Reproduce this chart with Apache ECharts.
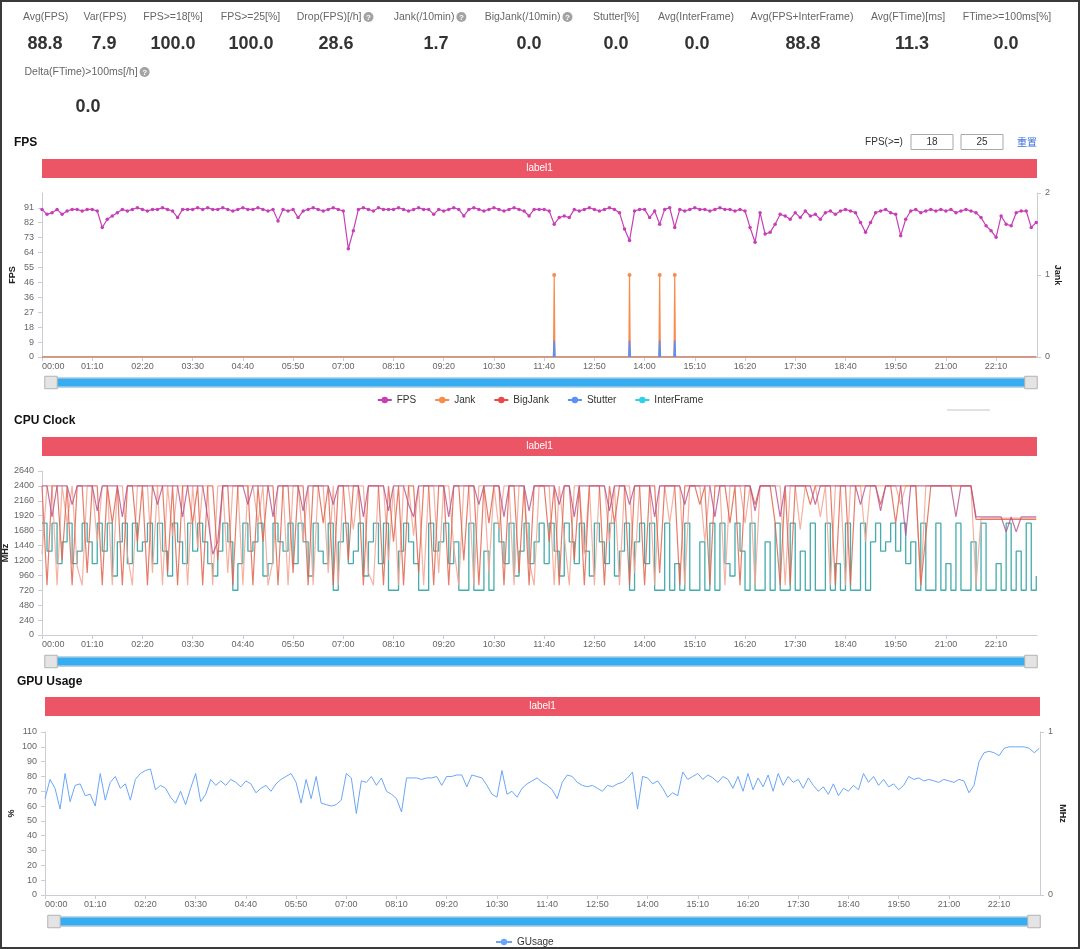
<!DOCTYPE html>
<html><head><meta charset="utf-8">
<script src="https://cdn.jsdelivr.net/npm/echarts@6/dist/echarts.min.js"></script>
<style>
html,body{margin:0;padding:0;background:#fff;}
#c{position:absolute;left:0;top:0;width:1080px;height:949px;}
#frame{position:absolute;left:0;top:0;width:1080px;height:949px;box-sizing:border-box;border:2px solid #3a3a3a;pointer-events:none;}
</style>
</head><body><div id="c"></div><div id="frame"></div>
<script>
// ---------------- data ----------------
const STEP = 7; // seconds between samples
const XMAX = 1387;
const fps = [
90,87,88,90,87,89,90,90,89,90,
90,89,79,84,86,88,90,89,90,91,
90,89,90,90,91,90,89,85,90,90,
90,91,90,91,90,90,91,90,89,90,
91,90,90,91,90,89,90,83,90,89,
90,85,89,90,91,90,89,90,91,90,
89,66,77,90,91,90,89,91,90,90,
90,91,90,89,90,91,90,90,87,90,
89,90,91,90,86,90,91,90,89,90,
91,90,89,90,91,90,89,86,90,90,
90,89,81,85,86,85,90,89,90,91,
90,89,90,91,90,88,78,71,89,90,
90,85,89,81,90,91,79,90,89,90,
91,90,90,89,90,91,90,90,89,90,
89,79,70,88,75,76,81,87,86,84,
88,85,89,86,87,84,88,89,87,89,
90,89,88,82,76,82,88,89,90,88,
87,74,84,89,90,88,89,90,89,90,
89,90,88,89,90,89,88,85,80,77,
73,86,81,80,88,89,89,79,82];
const times = fps.map((_, i) => i * STEP);
const jankEvents = [714, 819, 861, 882];
const jankValues = [1, 1, 1, 1];
const stutterValues = [0.2, 0.2, 0.2, 0.2];
const bigJankEvents = [];
const bigJankValues = [];
const interFrameEvents = [];
const interFrameValues = [];

const cpuP = [
2400,2400,1900,2400,2400,2400,2100,2400,2400,2400,
2400,2000,2400,2400,2400,2400,1900,2400,2400,2400,
2400,2400,2400,2100,2400,2400,2400,2400,1900,2400,
2400,2400,2400,1900,1300,1500,2400,2400,2400,2400,
2400,2100,2400,2400,2400,2400,1900,2400,2400,2400,
2400,2400,2000,2400,2400,2400,2400,2400,2100,2400,
2400,2400,2400,2400,1900,2400,2400,2400,2400,2000,
2400,2400,2400,2100,1900,2400,2400,2400,2400,2400,
2400,1900,2400,2400,2400,2400,2400,2100,2400,2400,
2400,2400,1900,2400,2400,2400,2400,2000,2400,2400,
2400,2400,2400,2100,2400,2400,1900,2400,2400,2400,
2400,2400,2400,2000,2400,2400,2400,2100,2400,2400,
2400,2400,1900,2400,2400,2400,2400,2400,2100,2400,
2400,2400,2400,2400,1900,2400,2400,2400,2400,2400,
2400,2400,2000,2400,2400,2400,2400,1900,2400,2400,
2400,2400,2400,2400,2100,2400,2400,2400,2400,2400,
2400,2400,2400,2100,2400,2400,2400,2000,2400,2400,
2400,2400,1600,2400,2400,2400,2400,2400,2400,2400,
2400,2400,1900,2400,2400,2400,1900,1900,1900,1900,
1900,1900,1660,1900,1660,1900,1900,1900,1900];
const cpuO1 = [
2400,800,2400,2400,1200,2400,800,2400,2400,1000,
2400,2400,800,2400,1800,2400,800,2400,2400,1500,
2400,800,2400,2400,2400,1000,2400,800,2400,2400,
1800,2400,800,2400,2400,1200,2400,2400,800,2400,
2400,2400,800,2400,1500,2400,2400,800,2400,2400,
1000,2400,2400,800,2400,2400,1800,2400,800,2400,
2400,1200,2400,2400,800,2400,2400,2400,800,2400,
1500,2400,800,2400,2400,1000,2400,2400,800,2400,
2400,800,2400,2400,1200,2400,2400,800,2400,1800,
2400,2400,800,2400,2400,1000,2400,800,2400,2400,
2400,1500,2400,800,2400,2400,1200,2400,800,2400,
2400,2400,800,2400,1800,2400,2400,800,2400,2400,
800,2400,2400,1000,2400,2400,2400,800,2400,2400,
2400,2100,2400,800,2400,2400,2400,1800,2400,800,
2400,2400,2100,2400,2400,2400,1800,800,2400,800,
2400,2400,2400,2100,2400,2400,2400,2400,800,2400,
2400,800,2400,2400,2400,2400,2400,2100,2400,2400,
1800,2400,2400,2400,2400,800,1600,2400,2400,2400,
2400,2400,2400,2400,2400,2400,1860,1860,1860,1860,
1860,1860,1860,1860,1860,1860,1860,1860,1860];
const cpuO2 = [
1300,2400,2400,800,2400,1800,2400,1100,800,2400,
2400,1500,2400,2400,800,2400,2400,1300,800,2400,
2400,2400,1000,2400,800,2400,1600,2400,2400,800,
2400,1400,2400,2400,800,2400,2400,1000,2400,2400,
800,2400,2400,1800,2400,800,1200,2400,2400,800,
2400,2400,1500,2400,800,2400,2400,1000,2400,800,
2400,2400,1700,2400,2400,1000,800,2400,2400,1200,
2400,800,2400,2400,1600,2400,800,2400,2400,1000,
2400,2400,1400,800,2400,2400,800,2400,2400,1000,
2400,1700,2400,2400,800,2400,2400,1200,800,2400,
2400,2400,800,2400,1600,800,2400,2400,1300,2400,
800,2400,2400,1500,2400,800,2400,2400,1000,2400,
2400,2400,800,2400,2400,1800,2400,2400,800,2400,
2400,2400,1500,2400,2400,2400,800,2400,2400,2400,
1800,2400,800,2400,2400,2400,2400,2400,800,2400,
2400,1700,2400,2400,2400,1900,2400,800,2400,2400,
800,2400,2400,2400,1500,2400,2400,2400,2400,2400,
2400,2100,2400,2400,2400,800,2400,2400,2400,2400,
2400,2400,2400,2400,2400,2400,800,1880,1880,1880,
1880,1880,1880,1880,1880,1880,1880,1880,1880];
const cpuT = [
1800,1350,1800,1150,1500,1800,1150,1350,1800,1500,
1150,1800,1350,1800,950,1500,1800,1150,1800,1350,
1500,1800,1150,1800,1350,950,1800,1500,1150,1800,
1350,1800,1500,1150,950,1350,1800,1500,720,1150,
1800,1350,1500,1800,950,1150,1800,1500,1350,1800,
1150,1800,1500,950,1800,1350,1150,1800,720,1500,
1800,1150,1350,1800,950,1500,1800,1150,1800,720,
720,1350,1800,1500,1150,720,720,1800,1350,1500,
1800,1150,1500,720,720,1800,720,720,1350,720,
1800,1500,1150,1800,950,1350,1800,1150,1500,1800,
1150,1800,1350,950,1800,1500,1150,1800,1350,950,
1800,1500,1150,1800,950,1350,1800,720,1500,1800,
1150,1800,720,720,1800,720,1150,720,1800,720,
720,1500,720,1800,720,1800,1150,950,1800,1350,
720,1800,720,720,1500,720,1800,720,720,1800,
720,1350,720,1800,720,720,1800,720,1150,720,
1800,720,720,1800,720,1500,1800,1350,1500,1800,
1350,1800,1150,1500,720,1800,720,720,1800,720,
1150,720,1800,720,720,1500,720,1800,720,720,
1150,720,1800,720,1350,720,1800,720,950];
const gpu = [
65,78,72,58,82,63,74,75,67,68,
60,82,64,76,80,72,75,64,78,82,
84,85,71,74,72,66,62,70,61,72,
82,63,68,78,74,77,74,78,76,73,
77,75,69,72,74,70,75,78,80,82,
76,62,78,65,80,62,61,60,61,64,
82,79,55,77,76,80,74,79,70,68,
65,56,79,79,79,78,79,79,80,74,
80,80,81,81,73,81,80,79,74,68,
66,84,68,70,66,72,75,77,79,76,
74,71,65,76,81,80,76,74,73,74,
72,70,74,73,75,76,79,83,58,80,
79,75,77,72,66,69,67,83,78,80,
82,78,81,79,76,80,78,72,80,70,
82,71,79,73,81,70,82,74,80,76,
78,72,79,74,70,73,68,75,67,72,
70,74,71,82,76,80,74,78,73,75,
71,74,80,78,79,77,78,77,76,78,
77,76,78,77,69,74,90,96,97,96,
94,99,100,100,100,100,99,96,99];

const statLabels = ['Avg(FPS)','Var(FPS)','FPS>=18[%]','FPS>=25[%]','Drop(FPS)[/h]','Jank(/10min)','BigJank(/10min)','Stutter[%]','Avg(InterFrame)','Avg(FPS+InterFrame)','Avg(FTime)[ms]','FTime>=100ms[%]','Delta(FTime)>100ms[/h]'];
const statValues = ['88.8','7.9','100.0','100.0','28.6','1.7','0.0','0.0','0.0','88.8','11.3','0.0','0.0'];
const chartTitles = ['FPS','CPU Clock','GPU Usage'];
const bandLabel = 'label1';
const fpsThresholds = ['18','25'];

// ---------------- layout ----------------
const FONT = "'Liberation Sans', Arial, sans-serif";
const statLabelCX = [45.6,105,173,250.5,null,null,null,616,696,802,908,1007,null];
const statHelpX   = [null,null,null,null,368.5,461.4,567.5,null,null,null,null,null,144.6];
const statValueCX = [45,104,173,251,336,436,529,616,697,803,912,1006,88];

const g = [];
statLabels.forEach((s, k) => {
  const row2 = k === 12;
  const ly = row2 ? 72 : 17, vy = row2 ? 107 : 44;
  if (statHelpX[k]) {
    g.push({type:'text', x: statHelpX[k] - 7, y: ly, style:{text:s, align:'right', verticalAlign:'middle', fill:'#666', font:'10.5px ' + FONT}});
    g.push({type:'circle', shape:{cx: statHelpX[k], cy: ly, r: 5}, style:{fill:'#a3a3a3'}});
    g.push({type:'text', x: statHelpX[k], y: ly + 0.5, style:{text:'?', align:'center', verticalAlign:'middle', fill:'#fff', font:'bold 8px ' + FONT}});
  } else {
    g.push({type:'text', x: statLabelCX[k], y: ly, style:{text:s, align:'center', verticalAlign:'middle', fill:'#666', font:'10.5px ' + FONT}});
  }
  g.push({type:'text', x: statValueCX[k], y: vy, style:{text: statValues[k], align:'center', verticalAlign:'middle', fill:'#333', font:'bold 18px ' + FONT}});
});
const titleXY = [[14,143],[14,421],[17,682]];
chartTitles.forEach((t, k) => {
  g.push({type:'text', x: titleXY[k][0], y: titleXY[k][1], style:{text:t, align:'left', verticalAlign:'middle', fill:'#111', font:'bold 12px ' + FONT}});
});
const bands = [[42,159,995],[42,437,995],[45,697,995]];
bands.forEach(b => {
  g.push({type:'rect', shape:{x:b[0], y:b[1], width:b[2], height:19}, style:{fill:'#ec5565'}});
  g.push({type:'text', x: b[0] + b[2]/2, y: b[1] + 9.5, style:{text: bandLabel, align:'center', verticalAlign:'middle', fill:'#fff', font:'10px ' + FONT}});
});
g.push({type:'text', x: 884, y: 142, style:{text:'FPS(>=)', align:'center', verticalAlign:'middle', fill:'#333', font:'10px ' + FONT}});
[[911,932],[961,982]].forEach((b, k) => {
  g.push({type:'rect', shape:{x:b[0], y:134.5, width:42, height:15}, style:{fill:'#fff', stroke:'#a9a9a9', lineWidth:1}});
  g.push({type:'text', x: b[1], y: 142, style:{text: fpsThresholds[k], align:'center', verticalAlign:'middle', fill:'#333', font:'10px ' + FONT}});
});
g.push({type:'text', x: 1027, y: 142, style:{text:'重置', align:'center', verticalAlign:'middle', fill:'#3d6fe0', font:"10px 'Noto Sans CJK SC', sans-serif"}});
g.push({type:'line', shape:{x1:947, y1:410, x2:990, y2:410}, style:{stroke:'#c4c4c4', lineWidth:1}});

// ---------------- helpers ----------------
function fmt(v) {
  v = Math.round(v);
  const m = Math.floor(v / 60), s = v % 60;
  return String(m).padStart(2,'0') + ':' + String(s).padStart(2,'0');
}
function pairs(arr) { return arr.map((v, i) => [times[i], v]); }
function spikes(events, values, withBase) {
  const d = [];
  if (withBase) d.push({value:[times[0], 0], symbol:'none'});
  events.forEach((t, k) => {
    if (!withBase && k > 0) d.push({value:[t - 2, '-']});
    d.push({value:[t - 1, 0], symbol:'none'});
    d.push({value:[t, values[k]], symbol: withBase ? 'circle' : 'none'});
    d.push({value:[t + 1, 0], symbol:'none'});
  });
  if (withBase) d.push({value:[times[times.length - 1], 0], symbol:'none'});
  return d;
}
const axisColor = '#c9cdd6';
function xAx(gi) {
  return {type:'value', gridIndex: gi, min: 0, max: XMAX, interval: 70,
    axisLine:{show:true, lineStyle:{color: axisColor}},
    axisTick:{show:true, length:4, lineStyle:{color: axisColor}},
    axisLabel:{fontSize:9, color:'#666', margin:5, formatter: fmt, showMaxLabel:false, alignMinLabel:'left', fontFamily: FONT},
    splitLine:{show:false}};
}
function yAx(gi, o) {
  return Object.assign({type:'value', gridIndex: gi,
    axisLine:{show:true, lineStyle:{color: axisColor}},
    axisTick:{show:true, length:4, lineStyle:{color: axisColor}},
    axisLabel:{fontSize:9, color:'#666', fontFamily: FONT, formatter: v => String(Math.round(v))},
    splitLine:{show:false}, nameLocation:'middle', nameMoveOverlap:false,
    nameTextStyle:{fontSize:9, fontWeight:'bold', color:'#222', fontFamily: FONT}}, o);
}
function slider(idx, top, left, right) {
  return {type:'slider', xAxisIndex: idx, top, height: 10, left, right, start:0, end:100,
    showDetail:false, showDataShadow:false, brushSelect:false, moveHandleSize:0, filterMode:'none',
    backgroundColor:'#fff', borderColor:'#d6d6d6', fillerColor:'#36adf0',
    handleIcon:'path://M0,0h11v11h-11z', handleSize:'125%',
    handleStyle:{color:'#e4e4e4', borderColor:'#b3b3b3', borderWidth:1}};
}

const option = {
  animation: false,
  textStyle:{fontFamily: FONT},
  graphic: g,
  grid: [
    {left:42, right:43, top:193, height:164, containLabel:false, outerBoundsMode:'none'},
    {left:42, right:43, top:471, height:164, containLabel:false, outerBoundsMode:'none'},
    {left:45, right:40, top:732, height:163, containLabel:false, outerBoundsMode:'none'}
  ],
  xAxis: [xAx(0), xAx(1), xAx(2)],
  yAxis: [
    yAx(0, {min:0, max:100, interval:9.1, name:'FPS', nameGap:25, nameRotate:90,
      axisLabel:{fontSize:9, color:'#666', fontFamily: FONT, showMaxLabel:false, formatter: v => String(Math.round(v))}}),
    yAx(0, {position:'right', min:0, max:2, interval:1, name:'Jank', nameGap:16, nameRotate:-90}),
    yAx(1, {min:0, max:2640, interval:240, name:'MHz', nameGap:32, nameRotate:90}),
    yAx(2, {min:0, max:110, interval:10, name:'%', nameGap:29, nameRotate:90}),
    yAx(2, {position:'right', min:0, max:1, interval:1, name:'MHz', nameGap:18, nameRotate:-90})
  ],
  dataZoom: [slider(0, 377.5, 48.5, 49.5), slider(1, 656.5, 48.5, 49.5), slider(2, 916.5, 51.5, 46.5)],
  legend: [
    {data:['FPS','Jank','BigJank','Stutter','InterFrame'], left:'center', top:390, itemWidth:14, itemHeight:8, itemGap:18,
      textStyle:{fontSize:10, color:'#333', fontFamily: FONT}},
    {data:['GUsage'], left:490, top:932, itemWidth:16, itemHeight:8,
      textStyle:{fontSize:10, color:'#333', fontFamily: FONT}}
  ],
  series: [
    {name:'InterFrame', type:'line', xAxisIndex:0, yAxisIndex:1, symbol:'none', color:'#35cfe3',
      lineStyle:{width:1}, data: spikes(interFrameEvents, interFrameValues, true)},
    {name:'BigJank', type:'line', xAxisIndex:0, yAxisIndex:1, symbol:'none', color:'#ef4646',
      lineStyle:{width:1}, data: spikes(bigJankEvents, bigJankValues, true)},
    {name:'Jank', type:'line', xAxisIndex:0, yAxisIndex:1, symbol:'circle', symbolSize:4, showAllSymbol:true, color:'#f98c4c',
      lineStyle:{width:1.2}, data: spikes(jankEvents, jankValues, true)},
    {name:'Stutter', type:'line', xAxisIndex:0, yAxisIndex:1, symbol:'none', color:'#5b8ff9', connectNulls:false,
      lineStyle:{width:1.5}, data: spikes(jankEvents, stutterValues, false)},
    {name:'FPS', type:'line', xAxisIndex:0, yAxisIndex:0, symbol:'circle', symbolSize:3.5, showAllSymbol:true, color:'#c63fb6',
      lineStyle:{width:1.2}, data: pairs(fps)},
    {name:'cpu-mid', type:'line', xAxisIndex:1, yAxisIndex:2, symbol:'none', step:'end', color:'#3aa8a8',
      lineStyle:{width:1.3, opacity:0.95}, data: pairs(cpuT)},
    {name:'cpu-little', type:'line', xAxisIndex:1, yAxisIndex:2, symbol:'none', color:'#f2a593',
      lineStyle:{width:1.2, opacity:0.85}, data: pairs(cpuO2)},
    {name:'cpu-big', type:'line', xAxisIndex:1, yAxisIndex:2, symbol:'none', color:'#e0654f',
      lineStyle:{width:1.2, opacity:0.85}, data: pairs(cpuO1)},
    {name:'cpu-prime', type:'line', xAxisIndex:1, yAxisIndex:2, symbol:'none', color:'#b3508f',
      lineStyle:{width:1.2, opacity:0.8}, data: pairs(cpuP)},
    {name:'GUsage', type:'line', xAxisIndex:2, yAxisIndex:3, symbol:'none', color:'#6aa6f8',
      lineStyle:{width:1}, data: pairs(gpu)}
  ]
};
const chart = echarts.init(document.getElementById('c'), null, {width:1080, height:949});
chart.setOption(option);
</script></body></html>
